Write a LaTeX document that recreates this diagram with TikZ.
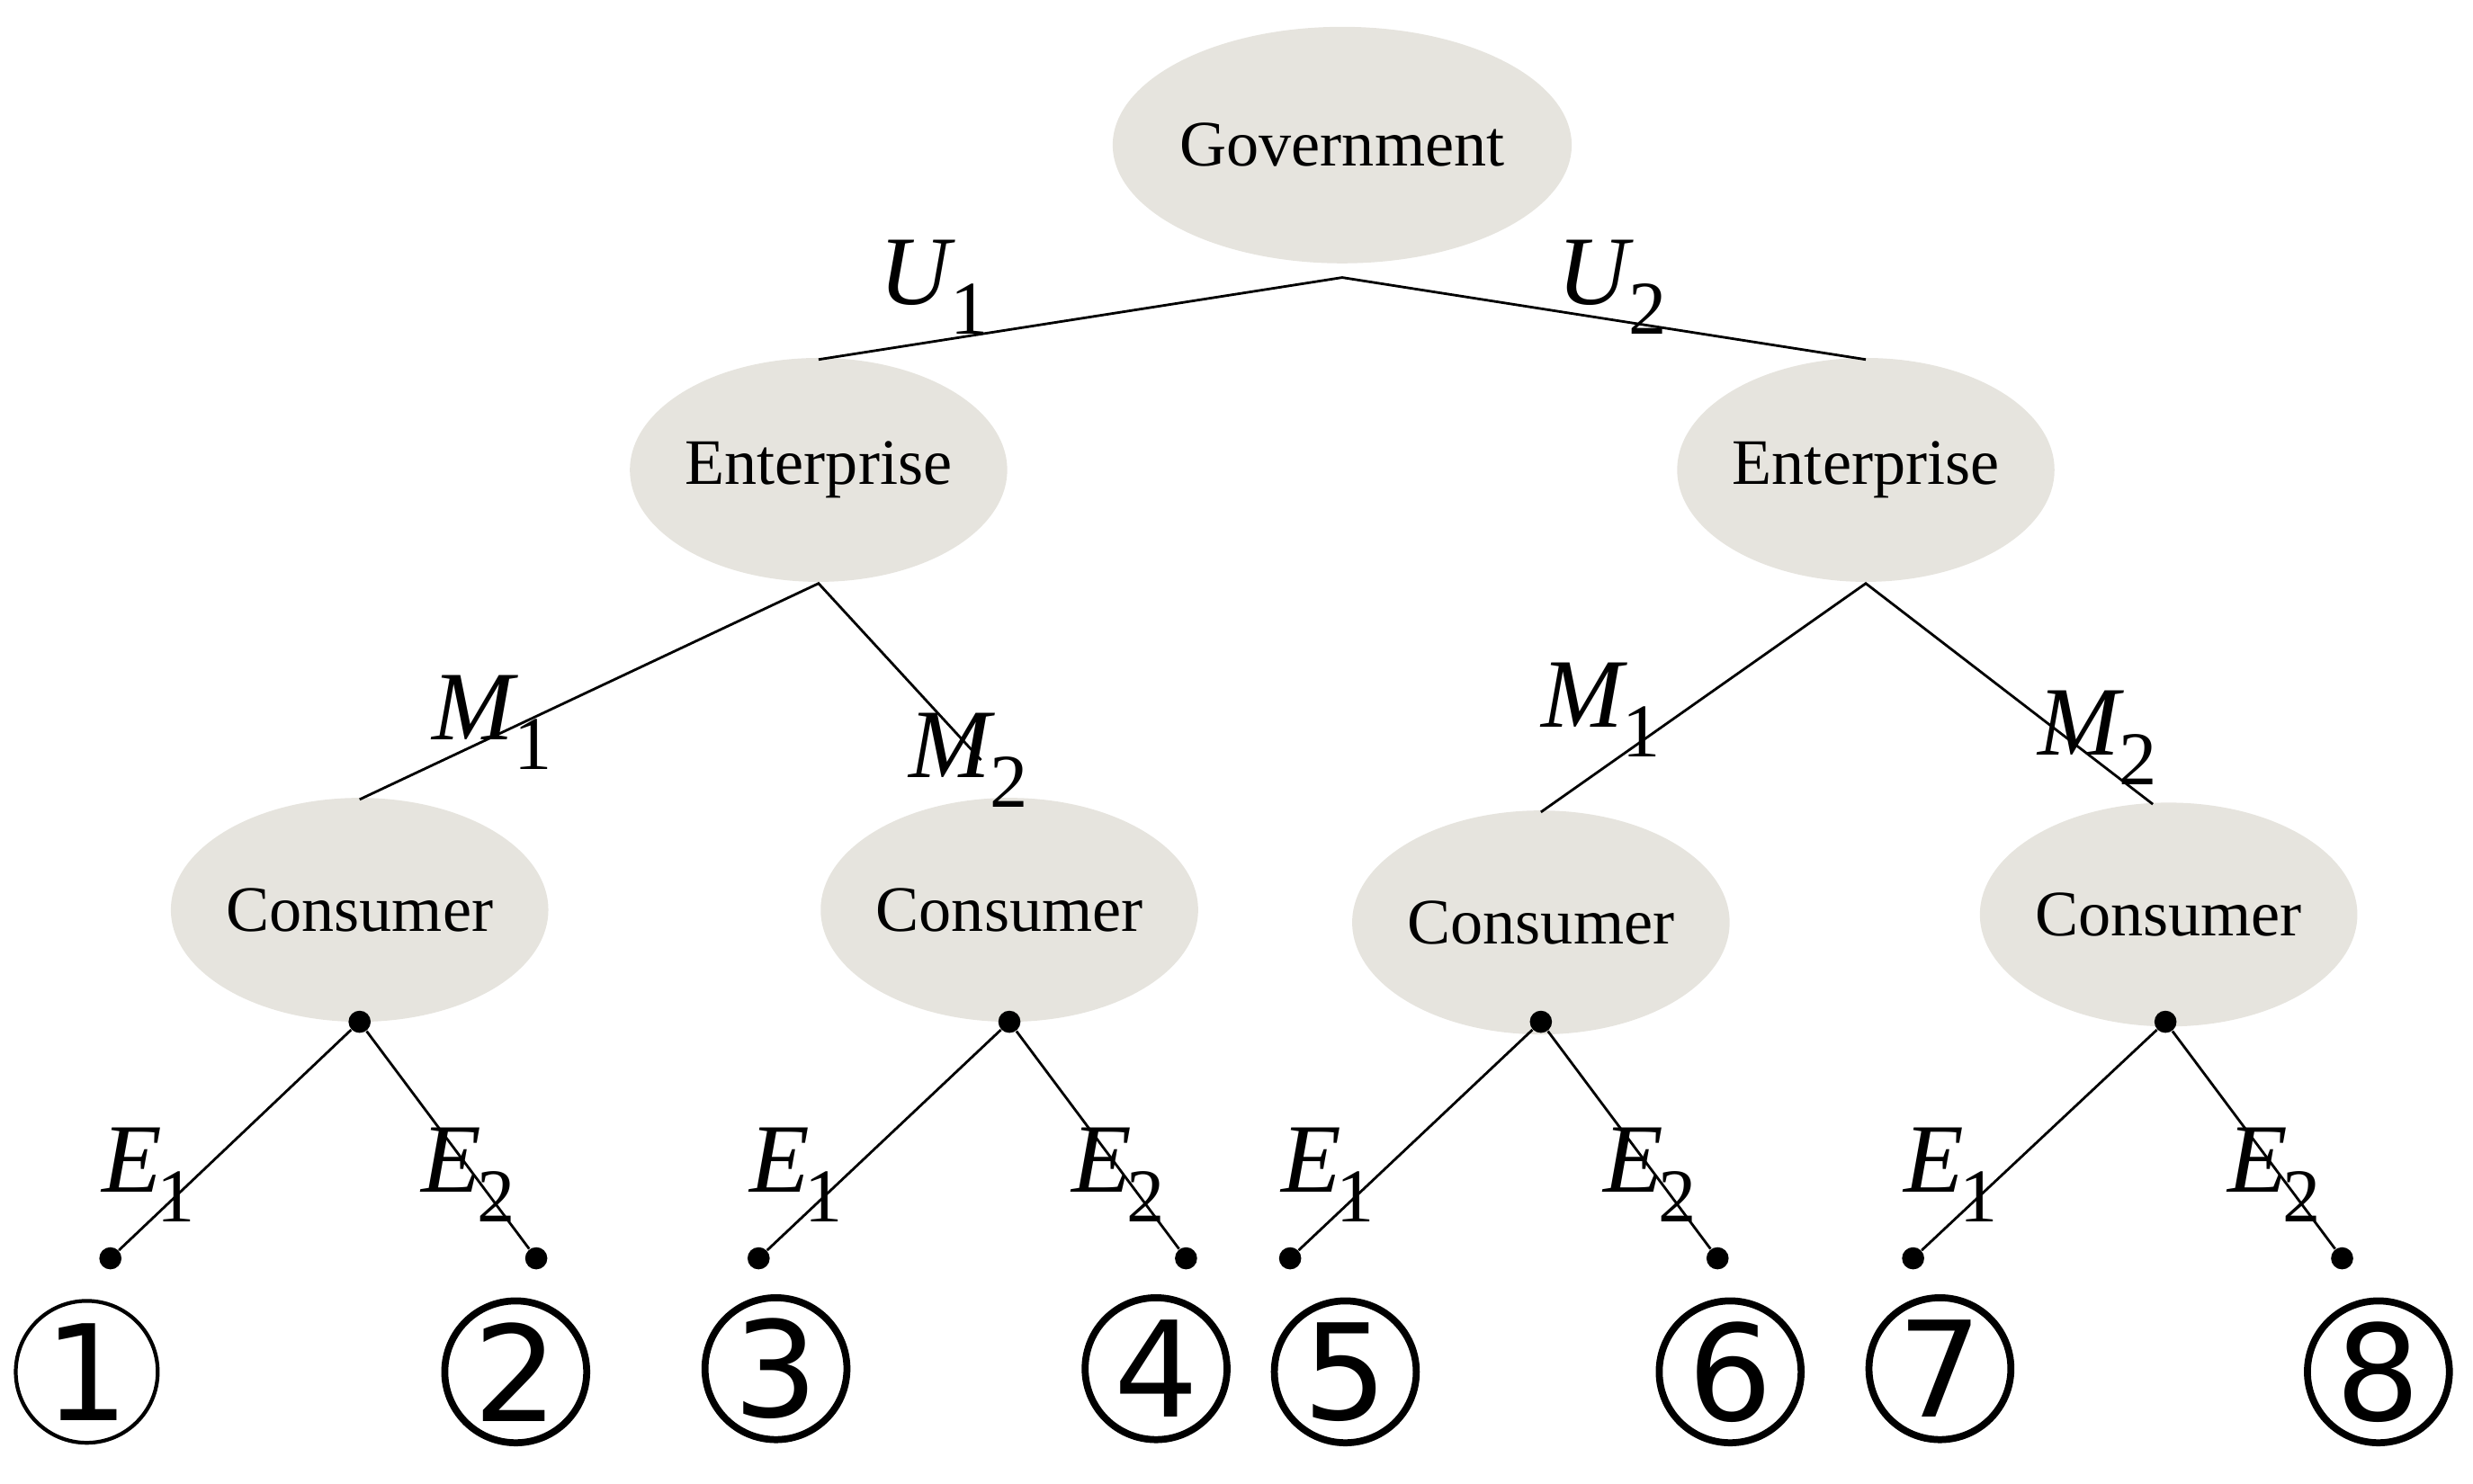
\documentclass[tikz,border=0pt]{standalone}
\usepackage{fontspec}
\setmainfont{Liberation Serif}
\newfontfamily\dv{DejaVu Sans}
\definecolor{nodefill}{RGB}{230,228,222}
\newcommand{\sublab}[2]{\textit{#1}\kern-0.05em\raisebox{-0.3em}{\fontsize{24}{28}\selectfont #2}}
\begin{document}
\begin{tikzpicture}[x=0.0175cm,y=-0.0175cm,
  ell/.style={ellipse,fill=nodefill,minimum width=236*0.0175cm,minimum height=142*0.0175cm,inner sep=0pt,font=\fontsize{20.5}{24}\selectfont},
  lab/.style={font=\fontsize{31}{35}\selectfont},
  num/.style={circle,draw,line width=2.2pt,minimum size=90*0.0175cm,inner sep=0pt,font=\dv\fontsize{42}{46}\selectfont},
  dot/.style={circle,fill,inner sep=0pt,minimum size=7pt},
  ln/.style={line width=0.8pt}]
\usetikzlibrary{shapes.geometric}
\useasboundingbox (0,0) rectangle (1568,941);
\node[ell,minimum width=260*0.0175cm,minimum height=150*0.0175cm] (g) at (851,92) {Government};
\node[ell] (e1) at (519,298) {Enterprise};
\node[ell] (e2) at (1183,298) {Enterprise};
\node[ell] (c1) at (228,577) {Consumer};
\node[ell] (c2) at (640,577) {Consumer};
\node[ell] (c3) at (977,585) {Consumer};
\node[ell] (c4) at (1375,580) {Consumer};
\coordinate (gj) at (851,176);
\coordinate (e1t) at (519,228);
\coordinate (e2t) at (1183,228);
\coordinate (e1b) at (519,370);
\coordinate (e2b) at (1183,370);
\coordinate (m1a) at (228,507);
\coordinate (m2a) at (622,482);
\coordinate (m1b) at (977,515);
\coordinate (m2b) at (1365,510);
\draw[ln] (e1t) -- (gj) -- (e2t);
\draw[ln] (m1a) -- (e1b) -- (m2a);
\draw[ln] (m1b) -- (e2b) -- (m2b);
\node[lab] at (592,182) {\sublab{U}{1}};
\node[lab] at (1022,182) {\sublab{U}{2}};
\node[lab] at (312,458) {\sublab{M}{1}};
\node[lab] at (614,482) {\sublab{M}{2}};
\node[lab] at (1015,450) {\sublab{M}{1}};
\node[lab] at (1330,468) {\sublab{M}{2}};
\foreach \c/\cx/\l/\r/\n in {c1/228/70/340/1, c2/640/481/752/2, c3/977/818/1089/3, c4/1373/1213/1485/4}{
  \node[dot] (d\n) at (\cx,648) {};
  \node[dot] (l\n) at (\l,798) {};
  \node[dot] (r\n) at (\r,798) {};
  \draw[ln] (l\n) -- (d\n) -- (r\n);
  \node[lab] at (\l+24,745) {\sublab{E}{1}};
  \node[lab] at (\r-43,745) {\sublab{E}{2}};
}
\node[num,line width=1.2pt] (n1) at (55,870) {1};
\node[num] (n2) at (327,870) {2};
\node[num] (n3) at (492,868) {3};
\node[num] (n4) at (733,868) {4};
\node[num] (n5) at (853,870) {5};
\node[num] (n6) at (1097,870) {6};
\node[num] (n7) at (1230,868) {7};
\node[num] (n8) at (1508,870) {8};
\end{tikzpicture}
\end{document}
